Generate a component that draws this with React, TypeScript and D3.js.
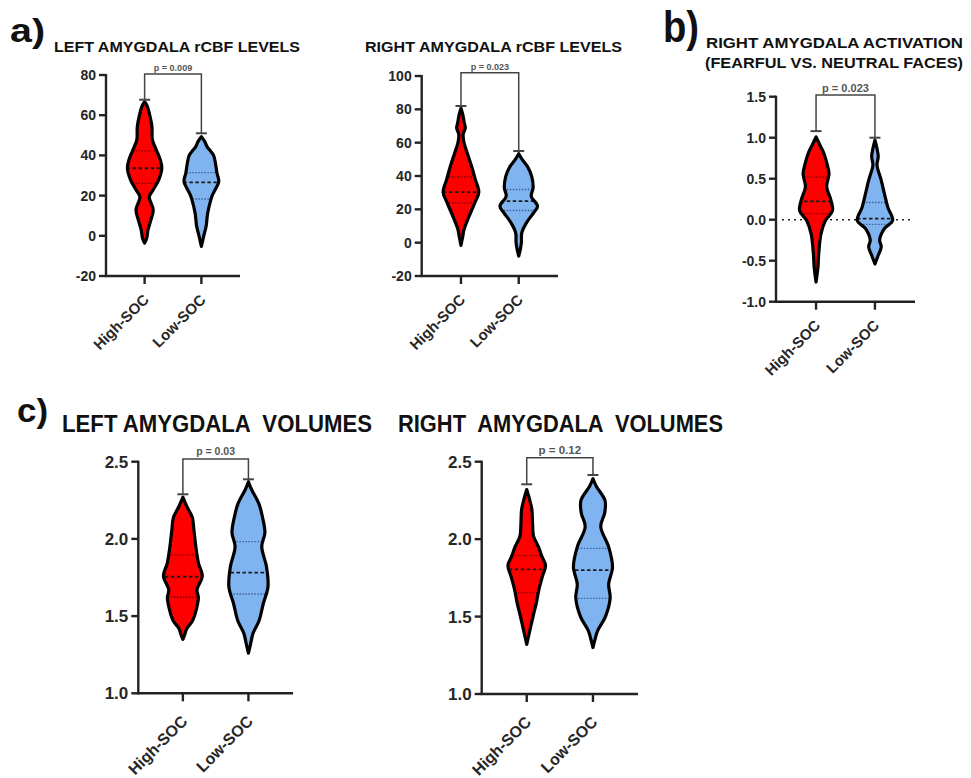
import React from "react";
import * as d3 from "d3";

const GROUPS = ["High-SOC", "Low-SOC"];

// ---------- Panel a (left): Left amygdala rCBF ----------
const aLeftTicks = [-20, 0, 20, 40, 60, 80];
const aLeftHighValues = [-3.6, -1.2, 3.0, 7.9, 12.9, 19.5, 22.9, 27.8, 33.6, 37.8, 42.7, 47.7, 54.3, 60.9, 64.3, 66.7];
const aLeftHighDensity = [0, 2.2, 3.7, 6.7, 9.2, 5.0, 9.2, 15.0, 18.3, 16.7, 12.5, 8.3, 7.8, 5.0, 3.0, 0];
const aLeftLowValues = [-5.3, 0.5, 4.6, 11.3, 17.9, 20.0, 23.7, 27.0, 31.4, 36.0, 40.0, 42.0, 44.4, 47.0, 49.3];
const aLeftLowDensity = [0, 2.8, 5.0, 6.7, 10.0, 11.5, 15.5, 18.5, 16.5, 15.0, 13.0, 10.0, 6.0, 3.5, 0];
const aLeftQuartiles = [[26.1, 33.6, 42.3], [18.3, 26.6, 31.4]];
const aLeftCaps = [67.7, 51];
const aLeftP = "p = 0.009";

// ---------- Panel a (right): Right amygdala rCBF ----------
const aRightTicks = [-20, 0, 20, 40, 60, 80, 100];
const aRightHighValues = [-1.6, 4, 8, 15.9, 23.9, 30.3, 37.8, 45.8, 53.8, 59.8, 63.7, 65.5, 68.7, 72, 76.7, 80.7];
const aRightHighDensity = [0, 2, 3.3, 8.7, 14.7, 19, 15.3, 11.3, 6.7, 3.3, 2.3, 2.5, 4.6, 3.5, 2.0, 0];
const aRightLowValues = [-8, -4, 0, 6, 12, 17.9, 21.9, 27.9, 32.9, 39.8, 45.8, 49.8, 53.4];
const aRightLowDensity = [0, 1.7, 2.8, 3.3, 8.3, 15.8, 20, 13.3, 15.3, 13.8, 9.2, 3.8, 0];
const aRightQuartiles = [[23.9, 30.3, 39.4], [19.3, 24.9, 31.9]];
const aRightCaps = [82, 55];
const aRightP = "p = 0.023";

// ---------- Panel b: Right amygdala activation ----------
const bTicks = [-1.0, -0.5, 0.0, 0.5, 1.0, 1.5];
const bHighValues = [-0.76, -0.58, -0.42, -0.17, -0.01, 0.11, 0.24, 0.40, 0.56, 0.68, 0.81, 0.93, 1.01];
const bHighDensity = [0, 2, 2.8, 5.3, 10, 17.5, 15.8, 11.3, 13.8, 11.7, 8.3, 3.3, 0];
const bLowValues = [-0.54, -0.44, -0.33, -0.25, -0.11, -0.01, 0.15, 0.32, 0.48, 0.64, 0.68, 0.77, 0.86, 0.97];
const bLowDensity = [0, 3.3, 6.7, 5, 10, 18.8, 13.7, 10, 6.7, 2.5, 2.2, 3.5, 2.3, 0];
const bQuartiles = [[0.073, 0.224, 0.52], [-0.057, 0.012, 0.21]];
const bCaps = [1.08, 1.0];
const bP = "p = 0.023";

// ---------- Panel c (left): Left amygdala volumes ----------
const cTicks = [1.0, 1.5, 2.0, 2.5];
const cLeftHighValues = [1.35, 1.38, 1.42, 1.47, 1.54, 1.62, 1.67, 1.76, 1.84, 1.95, 2.06, 2.14, 2.21, 2.27];
const cLeftHighDensity = [0, 2, 4.2, 10.3, 14.2, 16.5, 15, 20.7, 16.7, 13.8, 11.7, 10, 4.2, 0];
const cLeftLowValues = [1.26, 1.32, 1.39, 1.47, 1.58, 1.69, 1.82, 1.95, 2.04, 2.14, 2.23, 2.32, 2.37];
const cLeftLowDensity = [0, 2.3, 5, 11.3, 15.8, 20.8, 19.2, 14.2, 17.5, 15, 11, 3.3, 0];
const cLeftQuartiles = [[1.622, 1.755, 1.896], [1.643, 1.781, 1.982]];
const cLeftCaps = [2.289, 2.386];
const cLeftP = "p = 0.03";

// ---------- Panel c (right): Right amygdala volumes ----------
const cRightHighValues = [1.32, 1.42, 1.5, 1.59, 1.67, 1.76, 1.83, 1.89, 1.95, 2.02, 2.1, 2.19, 2.25, 2.32];
const cRightHighDensity = [0, 3.7, 6.7, 10.3, 12.8, 16.7, 20, 16, 12.5, 7.2, 6.2, 5.5, 3.3, 0];
const cRightLowValues = [1.3, 1.36, 1.41, 1.5, 1.62, 1.71, 1.82, 1.95, 2.08, 2.17, 2.25, 2.34, 2.39];
const cRightLowDensity = [0, 2.5, 5, 13.3, 18.3, 16.7, 20.8, 16.7, 8.3, 12.5, 12.8, 3.7, 0];
const cRightQuartiles = [[1.654, 1.805, 1.893], [1.618, 1.8, 1.94]];
const cRightCaps = [2.354, 2.414];
const cRightP = "p = 0.12";

const FILLS = ["#ff0000", "#80b4f0"];
const QCOLORS = ["rgba(70,0,0,0.7)", "rgba(20,40,90,0.6)"];
const FONT = "'Liberation Sans', Arial, Helvetica, sans-serif";

type Layout = {
  id: string;
  axisX: number;
  yTop: number;
  yBottom: number;
  xEnd: number;
  bracketY: number;
  tickSize: number;
  catSize: number;
  catDy: number;
  pSize: number;
  pDy: number;
  zeroLine?: boolean;
};

type PanelData = {
  domain: [number, number];
  ticks: number[];
  fmt: (n: number) => string;
  values: number[][];
  density: number[][];
  quartiles: number[][];
  caps: number[];
  p: string;
};

function Panel({ L, D }: { L: Layout; D: PanelData }) {
  const y = d3.scaleLinear().domain(D.domain).range([L.yBottom, L.yTop]);
  const x = d3.scalePoint<string>().domain(GROUPS).range([L.axisX, L.xEnd]).padding(0.68);
  const w = d3.scaleLinear().domain([0, 20]).range([0, 18.8]);
  const axisC = "#222";

  return (
    <g>
      {L.zeroLine && (
        <line
          x1={L.axisX + 6}
          x2={L.xEnd - 2}
          y1={y(0)}
          y2={y(0)}
          stroke="#222"
          strokeWidth={1.6}
          strokeDasharray="2,4"
        />
      )}
      {GROUPS.map((g, i) => {
        const cx = x(g) as number;
        const pts = D.values[i].map((v, k) => ({ v, d: D.density[i][k] }));
        const area = d3
          .area<{ v: number; d: number }>()
          .y((p) => y(p.v))
          .x0((p) => cx - w(p.d))
          .x1((p) => cx + w(p.d))
          .curve(d3.curveCatmullRom.alpha(0.5));
        const path = area(pts) || "";
        const clipId = `${L.id}-clip-${i}`;
        const [q1, med, q3] = D.quartiles[i];
        return (
          <g key={g}>
            <defs>
              <clipPath id={clipId}>
                <path d={path} />
              </clipPath>
            </defs>
            <path d={path} fill={FILLS[i]} />
            <g clipPath={`url(#${clipId})`}>
              {[q1, q3].map((q, k) => (
                <line
                  key={k}
                  x1={cx - 30}
                  x2={cx + 30}
                  y1={y(q)}
                  y2={y(q)}
                  stroke={QCOLORS[i]}
                  strokeWidth={1.3}
                  strokeDasharray="1.5,1.5"
                />
              ))}
              <line
                x1={cx - 30}
                x2={cx + 30}
                y1={y(med)}
                y2={y(med)}
                stroke="#1a1a1a"
                strokeWidth={1.8}
                strokeDasharray="3.5,2.5"
              />
            </g>
            <path d={path} fill="none" stroke="#000" strokeWidth={3.2} strokeLinejoin="round" />
          </g>
        );
      })}

      {/* bracket */}
      <g stroke="#444" fill="none">
        <path
          d={`M${x(GROUPS[0])},${y(D.caps[0])}V${L.bracketY}H${x(GROUPS[1])}V${y(D.caps[1])}`}
          strokeWidth={1.5}
        />
        {GROUPS.map((g, i) => (
          <line
            key={g}
            x1={(x(g) as number) - 5.5}
            x2={(x(g) as number) + 5.5}
            y1={y(D.caps[i])}
            y2={y(D.caps[i])}
            strokeWidth={2}
          />
        ))}
      </g>
      <text
        x={((x(GROUPS[0]) as number) + (x(GROUPS[1]) as number)) / 2}
        y={L.bracketY - L.pDy}
        textAnchor="middle"
        fontFamily={FONT}
        fontWeight="bold"
        fontSize={L.pSize}
        fill="#555"
      >
        {D.p}
      </text>

      {/* y axis */}
      <line x1={L.axisX} x2={L.axisX} y1={L.yTop - 1} y2={L.yBottom + 1} stroke={axisC} strokeWidth={2.4} />
      {D.ticks.map((t) => (
        <g key={t}>
          <line x1={L.axisX - 7} x2={L.axisX} y1={y(t)} y2={y(t)} stroke={axisC} strokeWidth={2.4} />
          <text
            x={L.axisX - 10}
            y={y(t)}
            dy="0.36em"
            textAnchor="end"
            fontFamily={FONT}
            fontWeight="bold"
            fontSize={L.tickSize}
            fill="#262626"
          >
            {D.fmt(t)}
          </text>
        </g>
      ))}
      {/* x axis */}
      <line x1={L.axisX - 1} x2={L.xEnd} y1={L.yBottom} y2={L.yBottom} stroke={axisC} strokeWidth={2.4} />
      {GROUPS.map((g) => {
        const cx = x(g) as number;
        return (
          <g key={g}>
            <line x1={cx} x2={cx} y1={L.yBottom} y2={L.yBottom + 8} stroke={axisC} strokeWidth={2.4} />
            <text
              transform={`translate(${cx + 1.5},${L.yBottom + L.catDy}) rotate(-45)`}
              dy="0.35em"
              textAnchor="end"
              fontFamily={FONT}
              fontWeight="bold"
              fontSize={L.catSize}
              fill="#262626"
            >
              {g}
            </text>
          </g>
        );
      })}
    </g>
  );
}

const intFmt = (n: number) => String(n);
const decFmt = (n: number) => n.toFixed(1);

export default function App() {
  const panels: { L: Layout; D: PanelData }[] = [
    {
      L: { id: "al", axisX: 106, yTop: 75, yBottom: 276, xEnd: 240, bracketY: 74, tickSize: 14, catSize: 15, catDy: 21, pSize: 9, pDy: 3 },
      D: {
        domain: [-20, 80],
        ticks: aLeftTicks,
        fmt: intFmt,
        values: [aLeftHighValues, aLeftLowValues],
        density: [aLeftHighDensity, aLeftLowDensity],
        quartiles: aLeftQuartiles,
        caps: aLeftCaps,
        p: aLeftP,
      },
    },
    {
      L: { id: "ar", axisX: 421.7, yTop: 76, yBottom: 276, xEnd: 558, bracketY: 72.7, tickSize: 14, catSize: 15, catDy: 21, pSize: 9, pDy: 3 },
      D: {
        domain: [-20, 100],
        ticks: aRightTicks,
        fmt: intFmt,
        values: [aRightHighValues, aRightLowValues],
        density: [aRightHighDensity, aRightLowDensity],
        quartiles: aRightQuartiles,
        caps: aRightCaps,
        p: aRightP,
      },
    },
    {
      L: { id: "b", axisX: 776, yTop: 96.7, yBottom: 301.7, xEnd: 915, bracketY: 95, tickSize: 14, catSize: 15, catDy: 21, pSize: 11, pDy: 3.5, zeroLine: true },
      D: {
        domain: [-1, 1.5],
        ticks: bTicks,
        fmt: decFmt,
        values: [bHighValues, bLowValues],
        density: [bHighDensity, bLowDensity],
        quartiles: bQuartiles,
        caps: bCaps,
        p: bP,
      },
    },
    {
      L: { id: "cl", axisX: 138.3, yTop: 461.7, yBottom: 693.3, xEnd: 293, bracketY: 459, tickSize: 17, catSize: 16, catDy: 25, pSize: 10.5, pDy: 4 },
      D: {
        domain: [1, 2.5],
        ticks: cTicks,
        fmt: decFmt,
        values: [cLeftHighValues, cLeftLowValues],
        density: [cLeftHighDensity, cLeftLowDensity],
        quartiles: cLeftQuartiles,
        caps: cLeftCaps,
        p: cLeftP,
      },
    },
    {
      L: { id: "cr", axisX: 481.7, yTop: 461.7, yBottom: 694, xEnd: 638, bracketY: 457.7, tickSize: 17, catSize: 16, catDy: 25, pSize: 11.5, pDy: 4 },
      D: {
        domain: [1, 2.5],
        ticks: cTicks,
        fmt: decFmt,
        values: [cRightHighValues, cRightLowValues],
        density: [cRightHighDensity, cRightLowDensity],
        quartiles: cRightQuartiles,
        caps: cRightCaps,
        p: cRightP,
      },
    },
  ];

  const T = (props: any) => (
    <text fontFamily={FONT} fontWeight="bold" fill="#111" lengthAdjust="spacingAndGlyphs" style={{ whiteSpace: "pre" }} {...props} />
  );

  return (
    <svg
      width={971}
      height={778}
      viewBox="0 0 971 778"
      style={{ position: "absolute", left: 0, top: 0, display: "block", background: "#fff" }}
    >
      <rect width={971} height={778} fill="#fff" />
      <T x={10} y={42} fontSize={34} textLength={35}>a)</T>
      <T x={54} y={52} fontSize={14} textLength={246}>LEFT AMYGDALA rCBF LEVELS</T>
      <T x={365} y={52} fontSize={14} textLength={257}>RIGHT AMYGDALA rCBF LEVELS</T>
      <T x={663} y={41.5} fontSize={44} textLength={36}>b)</T>
      <T x={706} y={48} fontSize={14} textLength={257}>RIGHT AMYGDALA ACTIVATION</T>
      <T x={705} y={68} fontSize={14} textLength={258}>(FEARFUL VS. NEUTRAL FACES)</T>
      <T x={17} y={422} fontSize={34} textLength={31}>c)</T>
      <T x={62} y={431.7} fontSize={23} textLength={310}>LEFT AMYGDALA  VOLUMES</T>
      <T x={398} y={432} fontSize={23} textLength={325}>RIGHT  AMYGDALA  VOLUMES</T>
      {panels.map((p) => (
        <Panel key={p.L.id} L={p.L} D={p.D} />
      ))}
    </svg>
  );
}
